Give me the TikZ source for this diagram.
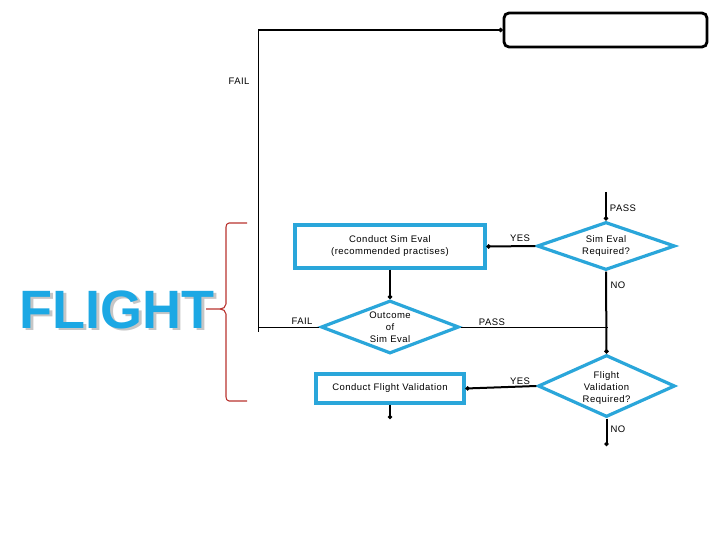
\documentclass[tikz,border=0pt]{standalone}
\usepackage{fontspec}
\setmainfont{Liberation Sans}
\usetikzlibrary{shapes.geometric,arrows.meta}
\definecolor{flowblue}{HTML}{2AA6DA}
\definecolor{flightblue}{HTML}{1CA8E4}
\definecolor{bracered}{HTML}{B8322E}
\tikzset{
  txt/.style={font=\fontsize{9.5}{12}\selectfont\addfontfeature{LetterSpace=5}, align=center, inner sep=0pt},
  bluebox/.style={draw=flowblue, line width=3.2pt, fill=white, inner sep=0pt},
  bluedia/.style={diamond, draw=flowblue, line width=3.2pt, fill=white, inner sep=0pt, aspect=2},
  flowline/.style={line width=2pt},
  thinline/.style={line width=1pt},
  dotend/.style={-{Circle[length=4pt]}},
  brace/.style={draw=bracered, line width=1.1pt}
}
\begin{document}
\begin{tikzpicture}[x=1pt,y=-1pt]
\useasboundingbox (0,0) rectangle (720,540);
% top box
\node[draw, line width=2.8pt, rounded corners=5pt, minimum width=203pt, minimum height=34pt, inner sep=0pt] (topbox) at (605.5,30) {};
% coordinates
\coordinate (tl) at (258,30);
\coordinate (bl) at (258,332);
\coordinate (failend) at (258,327);
\coordinate (rtop) at (606,192);
\coordinate (passend) at (608,327);
% blue nodes
\node[bluebox, minimum width=190pt, minimum height=43pt] (simbox) at (390,246.5) {};
\node[txt] (simboxt) at (simbox) {Conduct Sim Eval\\(recommended practises)};
\node[bluedia, minimum width=138pt, minimum height=48pt] (simdia) at (606,246) {};
\node[txt] (simdiat) at (simdia) {Sim Eval\\Required?};
\node[bluedia, minimum width=138pt, minimum height=53pt] (outdia) at (390,327) {};
\node[txt] (outdiat) at (390,327.5) {Outcome\\of\\Sim Eval};
\node[bluedia, minimum width=137pt, minimum height=62pt] (fvdia) at (606.5,386) {};
\node[txt] (fvdiat) at (606.5,388) {Flight\\Validation\\Required?};
\node[bluebox, minimum width=148pt, minimum height=29pt] (fvbox) at (390,388.5) {};
\node[txt] (fvboxt) at (fvbox) {Conduct Flight Validation};
\coordinate (fvboxend) at (390,419);
\coordinate (fvdiaend) at (606.5,446);
% connectors
\draw[thinline] (tl) -- (bl);
\draw[flowline, dotend] (tl) -- (topbox.west);
\draw[flowline, dotend] (rtop) -- (simdia.north);
\draw[flowline, dotend] (simdia.west) -- (simbox.east);
\draw[flowline, dotend] (simbox.south) -- (outdia.north);
\draw[thinline] (outdia.west) -- (failend);
\draw[thinline] (outdia.east) -- (passend);
\draw[flowline, dotend] (simdia.south) -- (fvdia.north);
\draw[flowline, dotend] (fvdia.west) -- (fvbox.east);
\draw[flowline, dotend] (fvbox.south) -- (fvboxend);
\draw[flowline, dotend] (fvdia.south) -- (fvdiaend);
% labels
\node[txt] (lfail1) at (239,81) {FAIL};
\node[txt] (lpass1) at (623,208) {PASS};
\node[txt] (lyes1) at (520,238) {YES};
\node[txt] (lno1) at (618,285) {NO};
\node[txt] (lfail2) at (302,321) {FAIL};
\node[txt] (lpass2) at (492,322) {PASS};
\node[txt] (lyes2) at (520,381) {YES};
\node[txt] (lno2) at (618,429) {NO};
% FLIGHT with shadow in one node
\node[font=\bfseries\fontsize{54}{54}\selectfont, text=flightblue, inner sep=0pt] (flight) at (117,311)
  {\rlap{\hspace{2.5pt}\raisebox{-2.5pt}{\color{gray!45}FLIGHT}}FLIGHT};
% brace
\draw[brace] (247,223) -- (229,223) to[out=180,in=90] (226,227) -- (226,304) to[out=-90,in=0] (220,309) -- (206,309);
\draw[brace] (220,309) to[out=0,in=90] (226,314) -- (226,397) to[out=-90,in=180] (229,401) -- (247,401);
\end{tikzpicture}
\end{document}
